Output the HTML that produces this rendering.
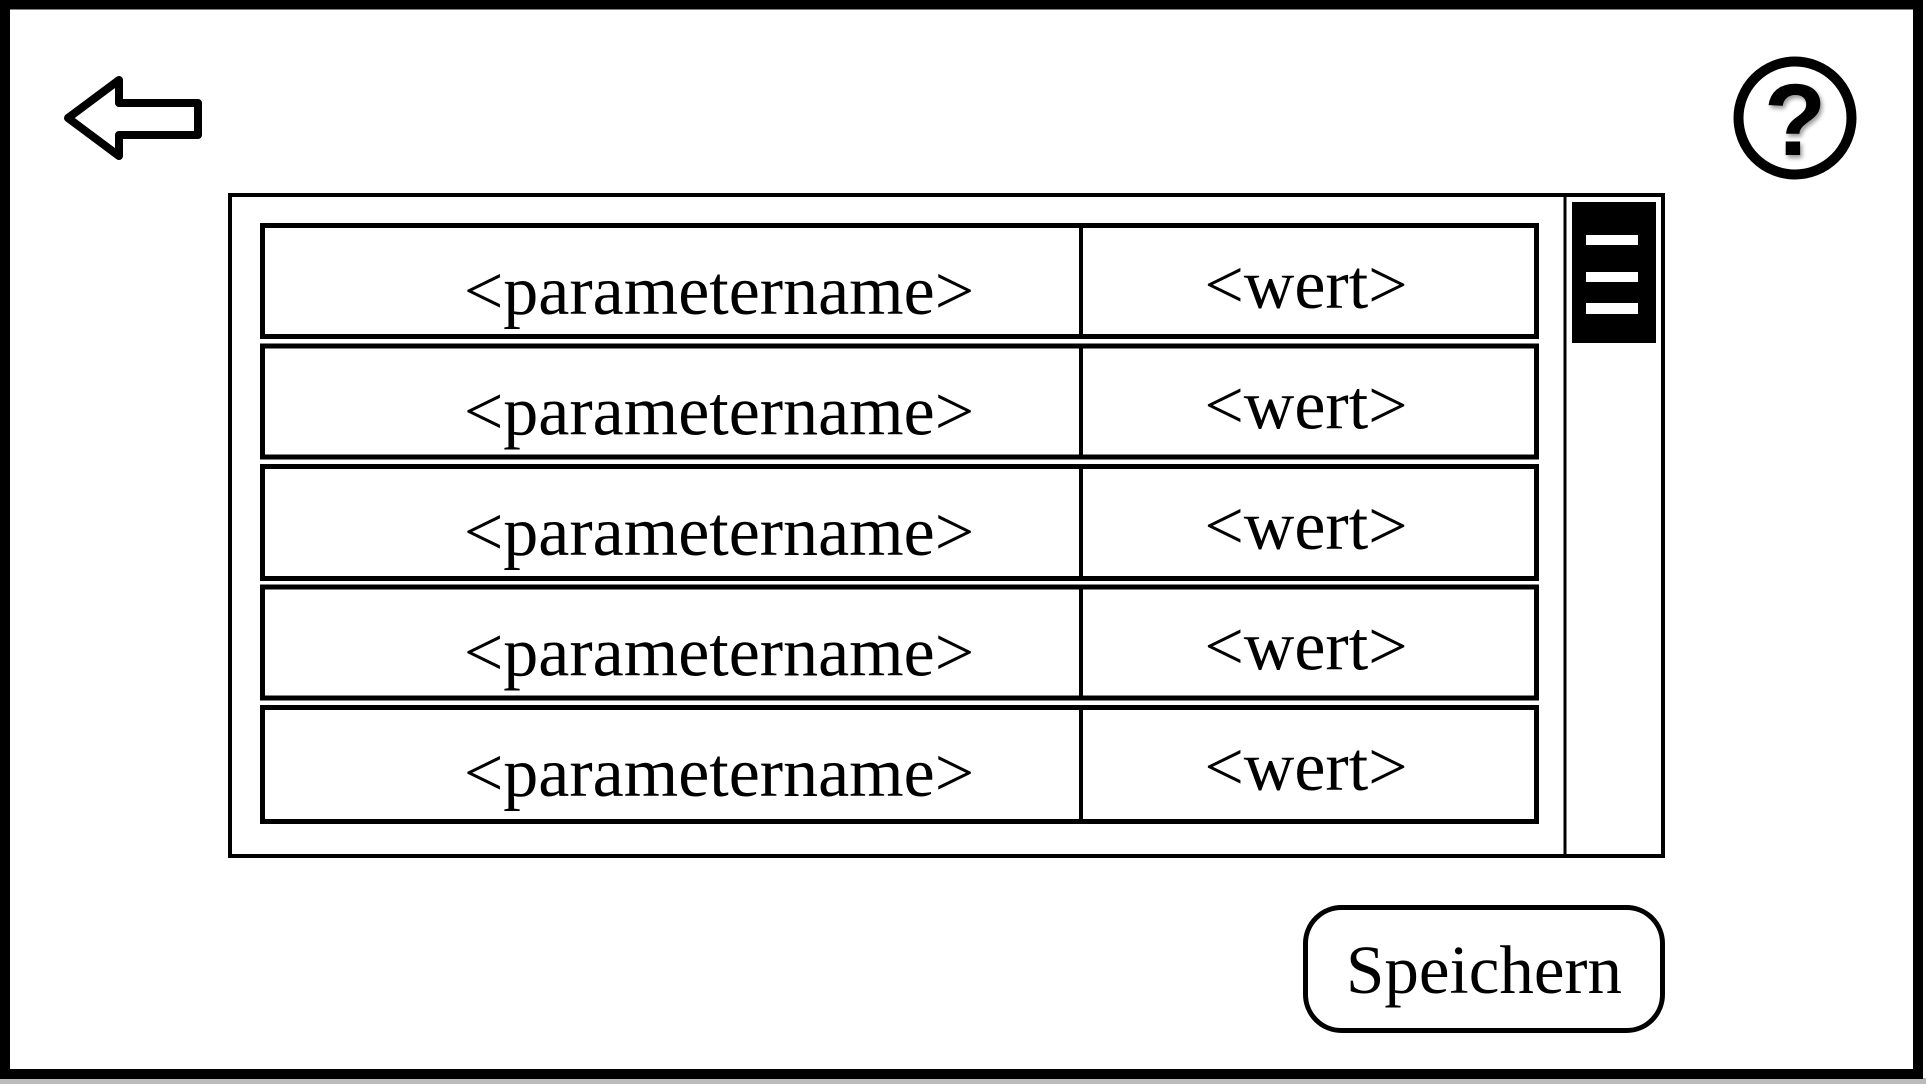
<!DOCTYPE html>
<html><head><meta charset="utf-8"><style>
html,body{margin:0;padding:0;background:#fff;width:1928px;height:1088px;overflow:hidden}
svg{display:block}
text{font-family:"Liberation Serif",serif;fill:#000}
</style></head><body>
<svg width="1928" height="1088" viewBox="0 0 1928 1088" xmlns="http://www.w3.org/2000/svg">
<defs><filter id="sh" x="-20%" y="-20%" width="140%" height="140%"><feDropShadow dx="2" dy="3" stdDeviation="2" flood-color="#000" flood-opacity="0.4"/></filter></defs>
<rect x="0" y="1078" width="1926" height="6" fill="#bbb"/>
<rect x="5" y="4.5" width="1913" height="1069.5" fill="#fff" stroke="#000" stroke-width="10"/>
<polygon points="68,118 119,80 119,103 198,103 198,135 119,135 119,156" fill="none" stroke="#000" stroke-width="8" stroke-linejoin="round"/>
<circle cx="1795" cy="118" r="56.5" fill="none" stroke="#000" stroke-width="10"/>
<text x="1795" y="155" text-anchor="middle" style="font-family:'Liberation Sans',sans-serif;font-weight:bold;font-size:102px" filter="url(#sh)">?</text>
<rect x="230" y="195" width="1433" height="661" fill="none" stroke="#000" stroke-width="4"/>
<line x1="1565" y1="195" x2="1565" y2="856" stroke="#000" stroke-width="3"/>
<rect x="1572" y="202" width="84" height="141" fill="#000"/>
<rect x="1586" y="235" width="52" height="10" fill="#fff"/>
<rect x="1586" y="272" width="52" height="10" fill="#fff"/>
<rect x="1586" y="303" width="52" height="11" fill="#fff"/>
<g stroke="#000" fill="none">
<rect x="262.5" y="225.5" width="1274" height="111" stroke-width="5"/>
<rect x="262.5" y="346" width="1274" height="111" stroke-width="5"/>
<rect x="262.5" y="466.5" width="1274" height="112" stroke-width="5"/>
<rect x="262.5" y="587" width="1274" height="111" stroke-width="5"/>
<rect x="262.5" y="707.5" width="1274" height="114" stroke-width="5"/>
<line x1="1081" y1="228" x2="1081" y2="336" stroke-width="4"/>
<line x1="1081" y1="348" x2="1081" y2="456" stroke-width="4"/>
<line x1="1081" y1="469" x2="1081" y2="577" stroke-width="4"/>
<line x1="1081" y1="589" x2="1081" y2="697" stroke-width="4"/>
<line x1="1081" y1="710" x2="1081" y2="820" stroke-width="4"/>
</g>
<g font-size="70" text-anchor="middle">
<text x="719" y="314">&lt;parametername&gt;</text>
<text x="719" y="434.5">&lt;parametername&gt;</text>
<text x="719" y="555">&lt;parametername&gt;</text>
<text x="719" y="675.5">&lt;parametername&gt;</text>
<text x="719" y="796">&lt;parametername&gt;</text>
<text x="1306" y="308">&lt;wert&gt;</text>
<text x="1306" y="428.5">&lt;wert&gt;</text>
<text x="1306" y="549">&lt;wert&gt;</text>
<text x="1306" y="669.5">&lt;wert&gt;</text>
<text x="1306" y="790">&lt;wert&gt;</text>
</g>
<rect x="1305.5" y="907.5" width="357" height="123" rx="36" fill="none" stroke="#000" stroke-width="5"/>
<text x="1484" y="993" font-size="69" text-anchor="middle">Speichern</text>
</svg>
</body></html>
